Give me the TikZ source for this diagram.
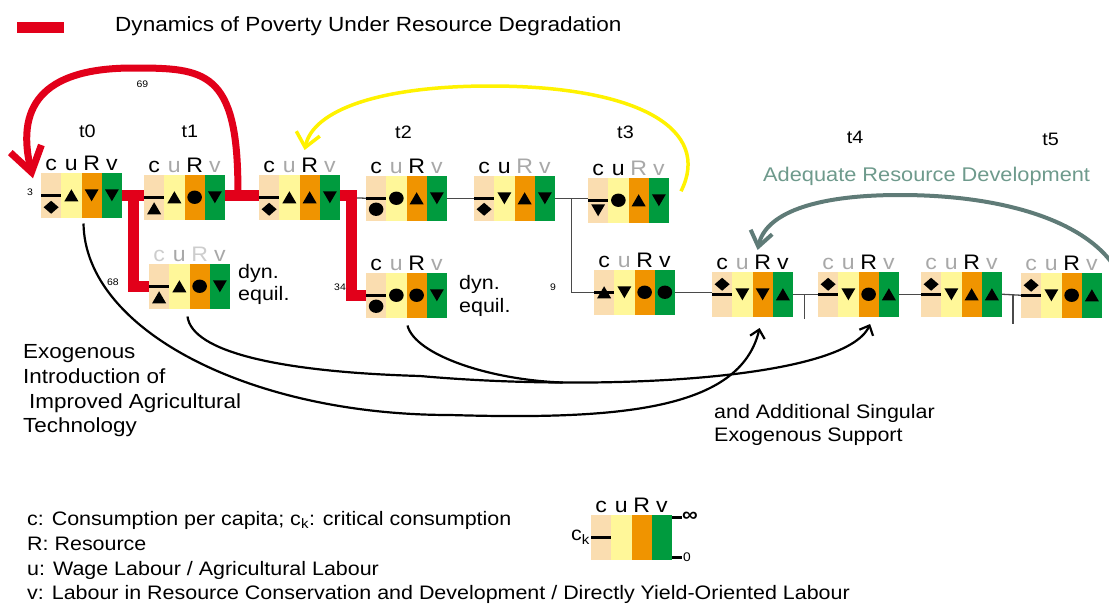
\documentclass[tikz,border=0pt]{standalone}
\usepackage{fontspec}
\setmainfont{Liberation Sans}[FakeStretch=1.1]
\usetikzlibrary{arrows.meta,calc,fit}

\definecolor{cpeach}{HTML}{FADDB0}
\definecolor{cyel}{HTML}{FFF799}
\definecolor{corange}{HTML}{F09400}
\definecolor{cgreen}{HTML}{009B3E}
\definecolor{cred}{HTML}{E2001A}
\definecolor{cyarc}{HTML}{FFF200}
\definecolor{carcgray}{HTML}{5F7B77}
\definecolor{ctextgreen}{HTML}{6E9A8C}
\definecolor{lblgray}{HTML}{A8A8A8}
\definecolor{lblfaint}{HTML}{CDCDCD}
\definecolor{cwire}{HTML}{4A4A4A}

\newcommand\fs[1]{\fontsize{#1}{#1}\selectfont}

% marks drawn inside the columns
\newcommand\SymTu[1]{\fill ([shift={(-7,6)}]#1) -- ([shift={(7,6)}]#1) -- ([shift={(0,-6)}]#1) -- cycle;}
\newcommand\SymTd[1]{\fill ([shift={(-7,-6)}]#1) -- ([shift={(7,-6)}]#1) -- ([shift={(0,6)}]#1) -- cycle;}
\newcommand\SymCi[1]{\fill (#1) ellipse[x radius=7.3, y radius=6.7];}
\newcommand\SymDi[1]{\fill ([shift={(-7.5,0)}]#1) -- ([shift={(0,-6.5)}]#1) -- ([shift={(7.5,0)}]#1) -- ([shift={(0,6.5)}]#1) -- cycle;}

% a state: four coloured columns c, u, R, v
\newcommand\stbox[2]{%
  \node[colc, anchor=north west] (#1-c) at (#2) {};
  \node[colu, anchor=west] (#1-u) at (#1-c.east) {};
  \node[colR, anchor=west] (#1-R) at (#1-u.east) {};
  \node[colv, anchor=west] (#1-v) at (#1-R.east) {};
  \node[boxframe, fit=(#1-c)(#1-v)] (#1) {};
}
% column letters with their colours
\newcommand\stlabels[5]{%
  \node[lab, text=#2] (#1-lc) at ([yshift=2.5pt]#1-c.north) {c};
  \node[lab, text=#3] (#1-lu) at ([yshift=2.5pt]#1-u.north) {u};
  \node[lab, text=#4] (#1-lR) at ([yshift=2.5pt]#1-R.north) {R};
  \node[lab, text=#5] (#1-lv) at ([yshift=2.5pt]#1-v.north) {v};
}
% critical-consumption bar, the c mark (shifted up by #2 pt) and the other marks
\newcommand\stsyms[6]{%
  \draw[ckline] (#1-c.west) -- (#1-c.east);
  \coordinate (#1-cm) at ([yshift=#2pt]#1-c.center);
  #3{#1-cm}
  #4{#1-u.center}
  #5{#1-R.center}
  #6{#1-v.center}
}

\tikzset{
  col/.style={minimum width=20.25pt, minimum height=44.5pt, inner sep=0pt, outer sep=0pt},
  colc/.style={col, fill=cpeach},
  colu/.style={col, fill=cyel},
  colR/.style={col, fill=corange},
  colv/.style={col, fill=cgreen},
  boxframe/.style={inner sep=0pt, outer sep=0pt},
  lab/.style={anchor=base, inner sep=0pt, font=\fs{21}},
  ckline/.style={line width=3pt},
  wire/.style={draw=cwire, line width=1.3pt},
  redline/.style={draw=cred, line width=11pt, line join=miter},
  redarc/.style={draw=cred, line width=7pt, -{Straight Barb[length=24pt, width=32pt]}},
  yarc/.style={draw=cyarc, line width=3.5pt, -{Straight Barb[length=14pt, width=24pt]}},
  garc/.style={draw=carcgray, line width=4pt, -{Straight Barb[length=15pt, width=22pt]}},
  exo/.style={line width=2.2pt, -{Straight Barb[length=8pt, width=15pt]}},
  exojoin/.style={line width=2.2pt},
  txt/.style={anchor=base west, inner sep=0pt, font=\fs{19.5}},
  bigtxt/.style={txt, font=\fs{20.4}},
  tlab/.style={anchor=base, inner sep=0pt, font=\fs{18}},
  num/.style={inner sep=0pt, font=\fs{9.5}},
}

\begin{document}
\begin{tikzpicture}[x=1pt, y=-1pt]
\useasboundingbox (0,0) rectangle (1109,605);
\clip (0,0) rectangle (1109,605);

% key of the red path
\node[fill=cred, minimum width=47pt, minimum height=11pt, inner sep=0pt, anchor=west] (key) at (17,27.5) {};
\node[anchor=base west, inner sep=0pt, font=\fs{20.5}] (title) at (115,31) {Dynamics of Poverty Under Resource Degradation};

% time steps
\node[tlab] (t0) at (87.5,137) {t0};
\node[tlab] (t1) at (190,137) {t1};
\node[tlab] (t2) at (403.5,138) {t2};
\node[tlab] (t3) at (625.5,138) {t3};
\node[tlab] (t4) at (855,143) {t4};
\node[tlab] (t5) at (1050.5,145) {t5};

% states
\stbox{A}{41,173}
\stbox{B}{144,175}
\stbox{C}{259,175}
\stbox{D}{149,264}
\stbox{E}{366,273}
\stbox{F}{366,176}
\stbox{G}{474,176}
\stbox{H}{588,178}
\stbox{I}{594,270}
\stbox{J}{712,272}
\stbox{K}{818,272}
\stbox{L}{921,272}
\stbox{M}{1021,273}

% thin links
\draw[wire] (C.east) -- (F.west);
\draw[wire] (F.east) -- (G.west);
\draw[wire] (G.east) -- (G.east -| H.west);
\draw[wire] ($(G.east)!0.5!(G.east -| H.west)$) |- (I.west);
\draw[wire] (I.east) -- (I.east -| J.west);
\draw[wire] (J.east) -- (K.west);
\draw[wire] ($(J.east)!0.45!(K.west)$) -- ++(0,25);
\draw[wire] (K.east) -- (L.west);
\draw[wire] (L.east) -- (M.west);
\draw[wire] ($(L.east)!0.58!(M.west)$) -- ++(0,29);

% red path
\draw[redline] (A.east) -- (A.east -| B.west);
\draw[redline] (B.east |- A.east) -- (C.west |- A.east);
\draw[redline] ($(A.east)!0.5!(A.east -| B.west)$) |- (D.west);
\draw[redline] (C.east |- A.east) -- ++(11.5,0) |- (E.west);
\coordinate (r69s) at ($(B.east |- A.east)!0.38!(C.west |- A.east)+(0,-5)$);
\coordinate (r69e) at ([shift={(-8,-17)}]A.west);
\draw[redarc] (r69s) .. controls (238,70) and (205,68) .. (133,68)
  .. controls (50,68) and (14,100) .. (r69e);

% column letters
\stlabels{A}{black}{black}{black}{black}
\stlabels{B}{black}{lblgray}{black}{lblgray}
\stlabels{C}{black}{lblgray}{black}{lblgray}
\stlabels{D}{lblfaint}{lblgray}{lblfaint}{lblgray}
\stlabels{E}{black}{lblgray}{black}{lblgray}
\stlabels{F}{black}{lblgray}{black}{lblgray}
\stlabels{G}{black}{black}{lblgray}{lblgray}
\stlabels{H}{black}{black}{lblgray}{lblgray}
\stlabels{I}{black}{lblgray}{black}{black}
\stlabels{J}{black}{lblgray}{black}{black}
\stlabels{K}{lblgray}{lblgray}{black}{lblgray}
\stlabels{L}{lblgray}{lblgray}{black}{lblgray}
\stlabels{M}{lblgray}{lblgray}{black}{lblgray}

% marks
\stsyms{A}{-12}{\SymDi}{\SymTu}{\SymTd}{\SymTd}
\stsyms{B}{-11}{\SymTu}{\SymTu}{\SymCi}{\SymTd}
\stsyms{C}{-12}{\SymDi}{\SymTu}{\SymTu}{\SymTd}
\stsyms{D}{-11}{\SymTu}{\SymTu}{\SymCi}{\SymTd}
\stsyms{E}{-11}{\SymCi}{\SymCi}{\SymCi}{\SymTd}
\stsyms{F}{-11}{\SymCi}{\SymCi}{\SymTu}{\SymTd}
\stsyms{G}{-11}{\SymDi}{\SymTd}{\SymTu}{\SymTd}
\stsyms{H}{-10}{\SymTd}{\SymCi}{\SymTu}{\SymTd}
\stsyms{I}{0}{\SymTu}{\SymTd}{\SymCi}{\SymCi}
\stsyms{J}{10}{\SymDi}{\SymTd}{\SymTd}{\SymTu}
\stsyms{K}{10}{\SymDi}{\SymTd}{\SymCi}{\SymTu}
\stsyms{L}{10}{\SymDi}{\SymTd}{\SymTu}{\SymTu}
\stsyms{M}{10}{\SymDi}{\SymTd}{\SymCi}{\SymTu}

% small counts
\node[num] (n3) at (30,192) {3};
\node[num] (n69) at (142.5,84) {69};
\node[num] (n68) at (113,282) {68};
\node[num] (n34) at (340,287.5) {34};
\node[num] (n9) at (553,287.5) {9};

% equilibrium notes
\node[txt] (dq1a) at (238,278) {dyn.};
\node[txt] (dq1b) at (238,300.7) {equil.};
\node[txt] (dq2a) at (459,289) {dyn.};
\node[txt] (dq2b) at (459,312) {equil.};

% yellow return
\coordinate (ys) at ([shift={(12,-9)}]H.east);
\coordinate (ye) at ([shift={(-5,-25)}]C-R.north);
\draw[yarc] (ys) .. controls (712,130) and (640,86) .. (490,86)
  .. controls (380,86) and (313,110) .. (ye);

% resource development return
\node[anchor=base west, inner sep=0pt, font=\fs{19.8}, text=ctextgreen] (ard) at (763,181) {Adequate Resource Development};
\coordinate (gs) at ([shift={(23,-5)}]M.east);
\coordinate (ge) at ([shift={(-5,-22)}]J-R.north);
\draw[garc] (gs) .. controls (1110,230) and (1020,195) .. (900,195)
  .. controls (810,195) and (765,215) .. (ge);

% exogenous interventions
\coordinate (xa) at ([shift={(2,6)}]A.south);
\coordinate (xd) at ([shift={(-2,8)}]D.south);
\coordinate (xe) at ([shift={(1,8)}]E.south);
\coordinate (xj) at ([shift={(-3,11.5)}]J-R.south);
\coordinate (xk) at ([shift={(1.5,7.5)}]K-R.south);
\draw[exo] (xa) .. controls (85,330) and (250,415) .. (450,415)
  .. controls (620,420) and (740,410) .. (xj);
\draw[exo] (xd) .. controls (192,352) and (280,372) .. (420,376)
  .. controls (600,392) and (845,380) .. coordinate[pos=0.25] (mrg) (xk);
\draw[exojoin] (xe) .. controls (415,355) and (490,380) .. (mrg);

\node[bigtxt] (ex1) at (23,358) {Exogenous};
\node[bigtxt] (ex2) at (23,383) {Introduction of};
\node[bigtxt] (ex3) at (29,408) {Improved Agricultural};
\node[bigtxt] (ex4) at (23,432) {Technology};
\node[txt] (su1) at (714,418) {and Additional Singular};
\node[txt] (su2) at (714,441) {Exogenous Support};

% legend
\node[txt] (lg1) at (27,525) {c: Consumption per capita; c\textsubscript{k}: critical consumption};
\node[txt] (lg2) at (27,550) {R: Resource};
\node[txt] (lg3) at (27,575) {u: Wage Labour / Agricultural Labour};
\node[txt] (lg4) at (27,599.5) {v: Labour in Resource Conservation and Development / Directly Yield-Oriented Labour};

\stbox{Lg}{591,515}
\stlabels{Lg}{black}{black}{black}{black}
\draw[ckline] (Lg-c.west) -- (Lg-c.east);
\node[anchor=east, inner sep=1pt, font=\fs{19.5}] (ck) at (Lg-c.west) {c\textsubscript{k}};
\coordinate (tinf) at ([yshift=-2pt]Lg.north east);
\coordinate (tzero) at ([yshift=2pt]Lg.south east);
\draw[ckline] (tinf) -- ++(10,0);
\draw[ckline] (tzero) -- ++(10,0);
\node[anchor=west, inner sep=0pt, font=\bfseries\fs{20}] (inf) at ([xshift=10pt]tinf) {∞};
\node[anchor=west, inner sep=0pt, font=\fs{12.5}] (zero) at ([xshift=11pt]tzero) {0};
\end{tikzpicture}
\end{document}
